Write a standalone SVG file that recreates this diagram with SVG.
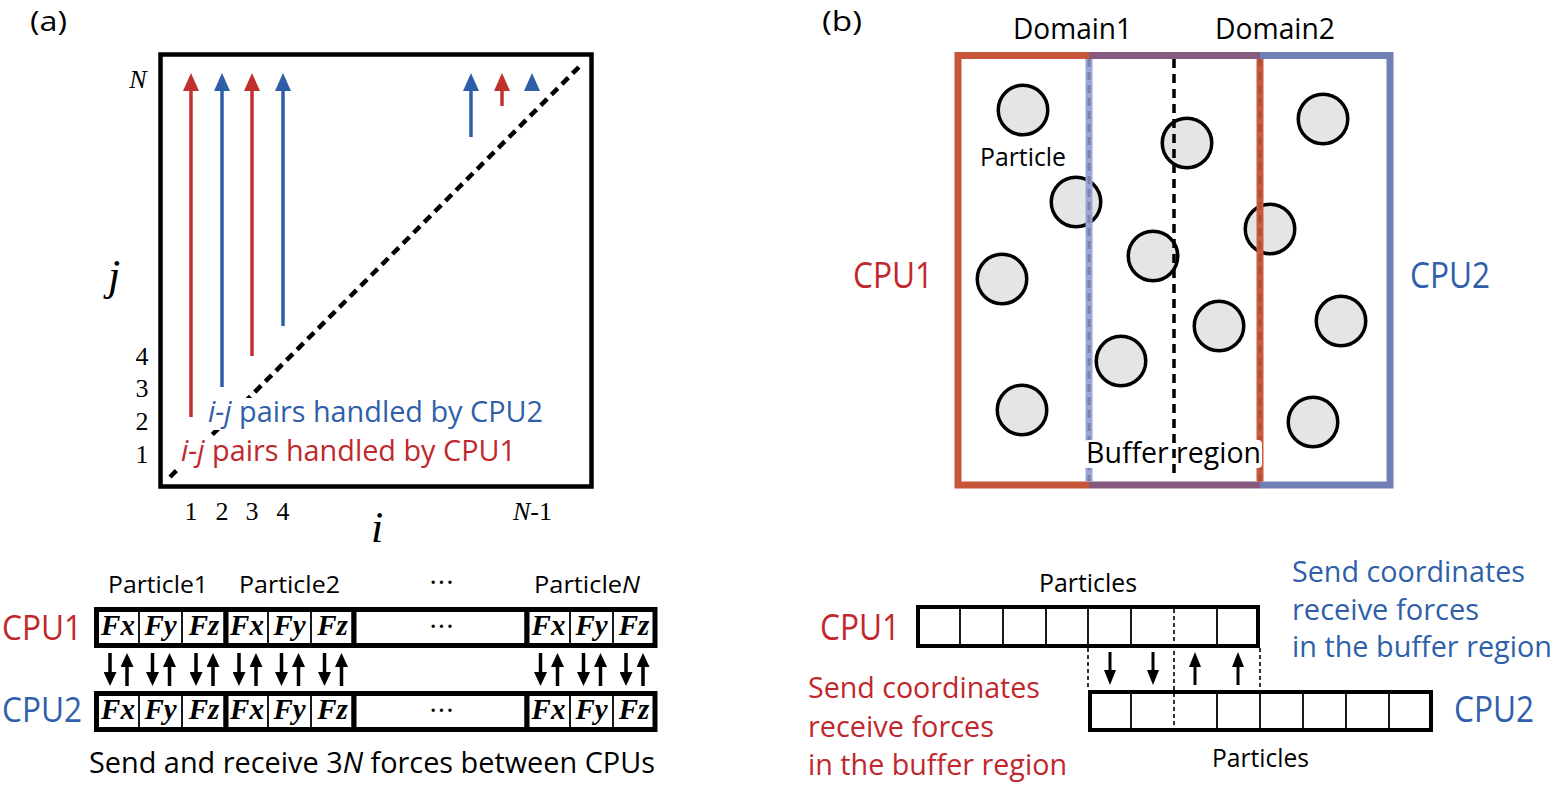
<svg xmlns="http://www.w3.org/2000/svg" width="1554" height="786" viewBox="0 0 1554 786">
<style>
.sans{font-family:"Open Sans","Liberation Sans",sans-serif;}
.serif{font-family:"Liberation Serif","Times New Roman",serif;}
.red{fill:#C0282D}
.blue{fill:#2F5FAA}
.frame{fill:none;stroke:#000;stroke-width:4.5}
.grp{fill:#fff;stroke:#000;stroke-width:5}
.row{fill:#fff;stroke:#000;stroke-width:4}
.div{stroke:#000;stroke-width:1.8}
.dsh{stroke:#000;stroke-width:1.6;stroke-dasharray:4 3}
.fxy{font-family:"Liberation Serif","Times New Roman",serif;font-style:italic;font-weight:bold;font-size:29px;text-anchor:middle}
.tick{font-family:"Liberation Serif","Times New Roman",serif;font-size:26px;text-anchor:middle}
.dots{font-family:"Open Sans",sans-serif;font-size:28px;text-anchor:middle;letter-spacing:1px}
.pt{fill:#E4E6E5;stroke:#000;stroke-width:3.5}
.arR{stroke:#C0302C;stroke-width:3.5;fill:none;marker-end:url(#hr)}
.arB{stroke:#2E5EA8;stroke-width:3.5;fill:none;marker-end:url(#hb)}
.arK{stroke:#000;stroke-width:3.5;fill:none;marker-end:url(#hk)}
.arK2{stroke:#000;stroke-width:3;fill:none;marker-end:url(#hk2)}
</style>
<defs>
<marker id="hr" markerUnits="userSpaceOnUse" markerWidth="18" markerHeight="16" viewBox="0 0 18 16" refX="8" refY="8" orient="auto"><path d="M0,0 L18,8 L0,16 z" fill="#C0302C"/></marker>
<marker id="hb" markerUnits="userSpaceOnUse" markerWidth="18" markerHeight="16" viewBox="0 0 18 16" refX="8" refY="8" orient="auto"><path d="M0,0 L18,8 L0,16 z" fill="#2E5EA8"/></marker>
<marker id="hk" markerUnits="userSpaceOnUse" markerWidth="14" markerHeight="13" viewBox="0 0 14 13" refX="6" refY="6.5" orient="auto"><path d="M0,0 L14,6.5 L0,13 z" fill="#000"/></marker>
<marker id="hk2" markerUnits="userSpaceOnUse" markerWidth="15" markerHeight="12" viewBox="0 0 15 12" refX="7" refY="6" orient="auto"><path d="M0,0 L15,6 L0,12 z" fill="#000"/></marker>
</defs>
<rect width="1554" height="786" fill="#fff"/>

<!-- ===== Panel (a) ===== -->
<g id="label-a"><text class="sans" x="30" y="31" font-size="28" textLength="37" lengthAdjust="spacingAndGlyphs">(a)</text></g>

<g id="matrix">
  <rect class="frame" x="160.5" y="54.5" width="431" height="432"/>
  <line x1="170" y1="477" x2="583" y2="63" stroke="#000" stroke-width="4.5" stroke-dasharray="9 6"/>
</g>

<g id="pair-arrows">
  <line class="arR" x1="191" y1="417" x2="191" y2="83"/>
  <line class="arB" x1="222" y1="387" x2="222" y2="83"/>
  <line class="arR" x1="252" y1="356" x2="252" y2="83"/>
  <line class="arB" x1="283" y1="326" x2="283" y2="83"/>
  <line class="arB" x1="471" y1="137" x2="471" y2="83"/>
  <line class="arR" x1="502" y1="106" x2="502" y2="83"/>
  <polygon points="532,73 524,91 540,91" fill="#2E5EA8"/>
</g>

<g id="legend-cpu2">
  <rect x="204" y="398" width="345" height="32" fill="#fff"/>
  <text class="sans blue" x="208" y="422" font-size="30" textLength="335" lengthAdjust="spacingAndGlyphs"><tspan font-style="italic">i-j</tspan> pairs handled by CPU2</text>
</g>
<g id="legend-cpu1">
  <rect x="177" y="437" width="345" height="32" fill="#fff"/>
  <text class="sans red" x="181" y="461" font-size="30" textLength="335" lengthAdjust="spacingAndGlyphs"><tspan font-style="italic">i-j</tspan> pairs handled by CPU1</text>
</g>

<g id="axes-labels">
  <text class="tick" x="138" y="88" font-size="30" font-style="italic">N</text>
  <text class="serif" x="114" y="290" font-size="44" font-style="italic" text-anchor="middle">j</text>
  <text class="tick" x="142" y="365">4</text>
  <text class="tick" x="142" y="397">3</text>
  <text class="tick" x="142" y="430">2</text>
  <text class="tick" x="142" y="463">1</text>
  <text class="tick" x="191" y="520">1</text>
  <text class="tick" x="222" y="520">2</text>
  <text class="tick" x="252" y="520">3</text>
  <text class="tick" x="283" y="520">4</text>
  <text class="tick" x="532.5" y="520"><tspan font-style="italic">N</tspan>-1</text>
  <text class="serif" x="377" y="542" font-size="44" font-style="italic" text-anchor="middle">i</text>
</g>

<g id="force-arrays">
  <text class="sans" x="108" y="593" font-size="24.5" textLength="100" lengthAdjust="spacingAndGlyphs">Particle1</text>
  <text class="sans" x="239" y="593" font-size="24.5" textLength="101" lengthAdjust="spacingAndGlyphs">Particle2</text>
  <text class="dots" x="442" y="592">···</text>
  <text class="sans" x="534" y="593" font-size="24.5" textLength="106" lengthAdjust="spacingAndGlyphs">Particle<tspan font-style="italic">N</tspan></text>

  <text class="sans red" x="2" y="640" font-size="34" textLength="80" lengthAdjust="spacingAndGlyphs">CPU1</text>
  <text class="sans blue" x="2" y="722" font-size="34" textLength="80" lengthAdjust="spacingAndGlyphs">CPU2</text>

  <g id="row-cpu1">
    <rect class="grp" x="96.5" y="609.5" width="129.5" height="36"/>
    <rect class="grp" x="226" y="609.5" width="128" height="36"/>
    <rect class="grp" x="354" y="609.5" width="173" height="36"/>
    <rect class="grp" x="527" y="609.5" width="128" height="36"/>
    <line class="div" x1="139" y1="612" x2="139" y2="643"/>
    <line class="div" x1="182" y1="612" x2="182" y2="643"/>
    <line class="div" x1="268" y1="612" x2="268" y2="643"/>
    <line class="div" x1="311" y1="612" x2="311" y2="643"/>
    <line class="div" x1="570" y1="612" x2="570" y2="643"/>
    <line class="div" x1="613" y1="612" x2="613" y2="643"/>
    <text class="fxy" x="118" y="635">Fx</text>
    <text class="fxy" x="160.5" y="635">Fy</text>
    <text class="fxy" x="204" y="635">Fz</text>
    <text class="fxy" x="247" y="635">Fx</text>
    <text class="fxy" x="289.5" y="635">Fy</text>
    <text class="fxy" x="332.5" y="635">Fz</text>
    <text class="dots" x="442" y="636">···</text>
    <text class="fxy" x="548.5" y="635">Fx</text>
    <text class="fxy" x="591.5" y="635">Fy</text>
    <text class="fxy" x="634" y="635">Fz</text>
  </g>
  <g id="row-cpu2">
    <rect class="grp" x="96.5" y="693.5" width="129.5" height="36"/>
    <rect class="grp" x="226" y="693.5" width="128" height="36"/>
    <rect class="grp" x="354" y="693.5" width="173" height="36"/>
    <rect class="grp" x="527" y="693.5" width="128" height="36"/>
    <line class="div" x1="139" y1="696" x2="139" y2="727"/>
    <line class="div" x1="182" y1="696" x2="182" y2="727"/>
    <line class="div" x1="268" y1="696" x2="268" y2="727"/>
    <line class="div" x1="311" y1="696" x2="311" y2="727"/>
    <line class="div" x1="570" y1="696" x2="570" y2="727"/>
    <line class="div" x1="613" y1="696" x2="613" y2="727"/>
    <text class="fxy" x="118" y="719">Fx</text>
    <text class="fxy" x="160.5" y="719">Fy</text>
    <text class="fxy" x="204" y="719">Fz</text>
    <text class="fxy" x="247" y="719">Fx</text>
    <text class="fxy" x="289.5" y="719">Fy</text>
    <text class="fxy" x="332.5" y="719">Fz</text>
    <text class="dots" x="442" y="720">···</text>
    <text class="fxy" x="548.5" y="719">Fx</text>
    <text class="fxy" x="591.5" y="719">Fy</text>
    <text class="fxy" x="634" y="719">Fz</text>
  </g>
  <g id="exchange-arrows">
    <line class="arK" x1="110" y1="653" x2="110" y2="678"/><line class="arK" x1="127" y1="686" x2="127" y2="661"/>
    <line class="arK" x1="152.5" y1="653" x2="152.5" y2="678"/><line class="arK" x1="169.5" y1="686" x2="169.5" y2="661"/>
    <line class="arK" x1="196" y1="653" x2="196" y2="678"/><line class="arK" x1="213" y1="686" x2="213" y2="661"/>
    <line class="arK" x1="239" y1="653" x2="239" y2="678"/><line class="arK" x1="256" y1="686" x2="256" y2="661"/>
    <line class="arK" x1="281.5" y1="653" x2="281.5" y2="678"/><line class="arK" x1="298.5" y1="686" x2="298.5" y2="661"/>
    <line class="arK" x1="324.5" y1="653" x2="324.5" y2="678"/><line class="arK" x1="341.5" y1="686" x2="341.5" y2="661"/>
    <line class="arK" x1="540.5" y1="653" x2="540.5" y2="678"/><line class="arK" x1="557.5" y1="686" x2="557.5" y2="661"/>
    <line class="arK" x1="583.5" y1="653" x2="583.5" y2="678"/><line class="arK" x1="600.5" y1="686" x2="600.5" y2="661"/>
    <line class="arK" x1="626" y1="653" x2="626" y2="678"/><line class="arK" x1="643" y1="686" x2="643" y2="661"/>
  </g>
  <text class="sans" x="89" y="773" font-size="28.5" textLength="566" lengthAdjust="spacingAndGlyphs">Send and receive 3<tspan font-style="italic">N</tspan> forces between CPUs</text>
</g>

<!-- ===== Panel (b) ===== -->
<g id="label-b"><text class="sans" x="822" y="31" font-size="28" textLength="40" lengthAdjust="spacingAndGlyphs">(b)</text></g>
<g id="domain-labels">
  <text class="sans" x="1013" y="39" font-size="30" textLength="119" lengthAdjust="spacingAndGlyphs">Domain1</text>
  <text class="sans" x="1215" y="39" font-size="30" textLength="120" lengthAdjust="spacingAndGlyphs">Domain2</text>
  <text class="sans red" x="853" y="288" font-size="36" textLength="80" lengthAdjust="spacingAndGlyphs">CPU1</text>
  <text class="sans blue" x="1410" y="288" font-size="36" textLength="80" lengthAdjust="spacingAndGlyphs">CPU2</text>
</g>

<g id="particles">
  <circle class="pt" cx="1023" cy="110" r="24.75"/>
  <circle class="pt" cx="1076" cy="202" r="24.75"/>
  <circle class="pt" cx="1187" cy="143" r="24.75"/>
  <circle class="pt" cx="1323" cy="119" r="24.75"/>
  <circle class="pt" cx="1270" cy="229" r="24.75"/>
  <circle class="pt" cx="1153" cy="256" r="24.75"/>
  <circle class="pt" cx="1002" cy="279" r="24.75"/>
  <circle class="pt" cx="1219" cy="326" r="24.75"/>
  <circle class="pt" cx="1341" cy="321" r="24.75"/>
  <circle class="pt" cx="1121" cy="361" r="24.75"/>
  <circle class="pt" cx="1022" cy="410" r="24.75"/>
  <circle class="pt" cx="1313" cy="422" r="24.75"/>
  <text class="sans" x="980" y="166" font-size="25" textLength="86" lengthAdjust="spacingAndGlyphs">Particle</text>
</g>

<g id="domain-frames" fill="none" stroke-width="7">
  <path d="M1089,55.5 H958 V485 H1089" stroke="#C6553A"/>
  <path d="M1089,55.5 H1260 M1089,485 H1260" stroke="#865A7F"/>
  <path d="M1260,55.5 H1390 V485 H1260" stroke="#7080B5"/>
  <line x1="1089" y1="59" x2="1089" y2="481.5" stroke="#9AA6D8"/>
  <line x1="1089" y1="59" x2="1089" y2="481.5" stroke="#7C82A8" stroke-width="3" stroke-dasharray="8 5"/>
  <line x1="1260" y1="59" x2="1260" y2="481.5" stroke="#CC5B3C"/>
  <line x1="1260" y1="59" x2="1260" y2="481.5" stroke="#AE4E3A" stroke-width="3" stroke-dasharray="8 5"/>
</g>
<g id="buffer-label">
  <rect x="1084" y="440" width="178" height="28" rx="4" fill="#fff"/>
  <text class="sans" x="1086" y="463" font-size="30" textLength="175" lengthAdjust="spacingAndGlyphs">Buffer region</text>
  <line x1="1174" y1="59" x2="1174" y2="473" stroke="#000" stroke-width="3.5" stroke-dasharray="9 6"/>
</g>

<g id="particle-arrays">
  <text class="sans" x="1039" y="592" font-size="25" textLength="98" lengthAdjust="spacingAndGlyphs">Particles</text>
  <text class="sans" x="1212" y="767" font-size="25" textLength="97" lengthAdjust="spacingAndGlyphs">Particles</text>
  <text class="sans red" x="820" y="640" font-size="37" textLength="80" lengthAdjust="spacingAndGlyphs">CPU1</text>
  <text class="sans blue" x="1454" y="722" font-size="37" textLength="80" lengthAdjust="spacingAndGlyphs">CPU2</text>
  <g id="array-cpu1">
    <rect class="row" x="918" y="607" width="340" height="39"/>
    <line class="div" x1="960" y1="609" x2="960" y2="644"/>
    <line class="div" x1="1003" y1="609" x2="1003" y2="644"/>
    <line class="div" x1="1046" y1="609" x2="1046" y2="644"/>
    <line class="div" x1="1088" y1="609" x2="1088" y2="644"/>
    <line class="div" x1="1131" y1="609" x2="1131" y2="644"/>
    <line class="div" x1="1217" y1="609" x2="1217" y2="644"/>
  </g>
  <g id="array-cpu2">
    <rect class="row" x="1090" y="692" width="341" height="38"/>
    <line class="div" x1="1131" y1="694" x2="1131" y2="728"/>
    <line class="div" x1="1217" y1="694" x2="1217" y2="728"/>
    <line class="div" x1="1260" y1="694" x2="1260" y2="728"/>
    <line class="div" x1="1303" y1="694" x2="1303" y2="728"/>
    <line class="div" x1="1346" y1="694" x2="1346" y2="728"/>
    <line class="div" x1="1389" y1="694" x2="1389" y2="728"/>
  </g>
  <line class="dsh" x1="1174" y1="609" x2="1174" y2="728"/>
  <line class="dsh" x1="1088" y1="648" x2="1088" y2="690"/>
  <line class="dsh" x1="1260" y1="648" x2="1260" y2="690"/>
</g>
<g id="buffer-arrows">
  <line class="arK2" x1="1110" y1="652" x2="1110" y2="677"/>
  <line class="arK2" x1="1153" y1="652" x2="1153" y2="677"/>
  <line class="arK2" x1="1195" y1="685" x2="1195" y2="660"/>
  <line class="arK2" x1="1238" y1="685" x2="1238" y2="660"/>
</g>

<g id="notes">
  <text class="sans red" font-size="29">
    <tspan x="808" y="698" textLength="232" lengthAdjust="spacingAndGlyphs">Send coordinates</tspan>
    <tspan x="808" y="737" textLength="186" lengthAdjust="spacingAndGlyphs">receive forces</tspan>
    <tspan x="808" y="775" textLength="259" lengthAdjust="spacingAndGlyphs">in the buffer region</tspan>
  </text>
  <text class="sans blue" font-size="29">
    <tspan x="1292" y="582" textLength="233" lengthAdjust="spacingAndGlyphs">Send coordinates</tspan>
    <tspan x="1292" y="620" textLength="187" lengthAdjust="spacingAndGlyphs">receive forces</tspan>
    <tspan x="1292" y="657" textLength="260" lengthAdjust="spacingAndGlyphs">in the buffer region</tspan>
  </text>
</g>
</svg>
